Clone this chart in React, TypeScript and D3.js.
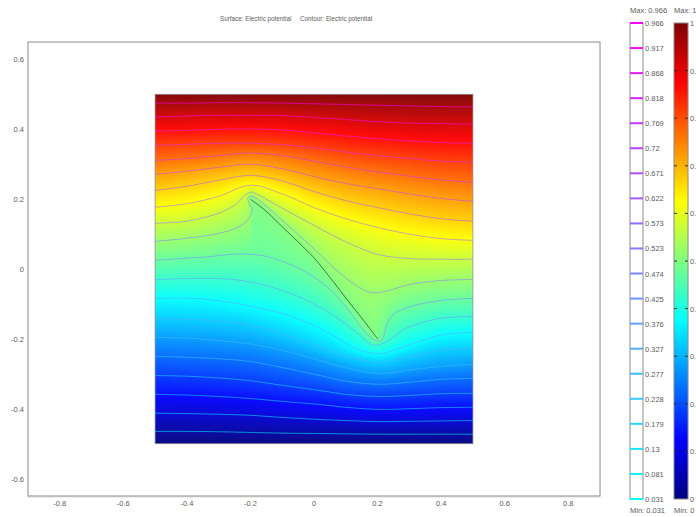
import React, { useMemo } from "react";
import * as d3 from "d3";

const titleSurface = "Surface: Electric potential";
const titleContour = "Contour: Electric potential";
const xTicks = [-0.8, -0.6, -0.4, -0.2, 0, 0.2, 0.4, 0.6, 0.8];
const yTicks = [0.6, 0.4, 0.2, 0, -0.2, -0.4, -0.6];
const contourLevels = [0.966, 0.917, 0.868, 0.818, 0.769, 0.72, 0.671, 0.622, 0.573, 0.523, 0.474, 0.425, 0.376, 0.327, 0.277, 0.228, 0.179, 0.13, 0.081, 0.031];
const surfaceTicks = [1, 0.9, 0.8, 0.7, 0.6, 0.5, 0.4, 0.3, 0.2, 0.1, 0];
const jetStops = [0, 0.125, 0.375, 0.625, 0.875, 1];
const jetColors = ["#000080", "#0000ff", "#00ffff", "#ffff00", "#ff0000", "#800000"];

const upperX = [-0.5, -0.4, -0.3, -0.2, -0.1, 0, 0.1, 0.2, 0.3, 0.4, 0.5];
const lowerX = [-0.5, -0.4, -0.3, -0.2, -0.1, 0.019, 0.1, 0.208, 0.302, 0.4, 0.5];

const y966 = [0.475, 0.475, 0.476, 0.476, 0.475, 0.473, 0.471, 0.469, 0.467, 0.465, 0.464];
const y917 = [0.435, 0.438, 0.44, 0.44, 0.439, 0.434, 0.428, 0.422, 0.418, 0.416, 0.415];
const y868 = [0.395, 0.397, 0.4, 0.401, 0.398, 0.39, 0.381, 0.373, 0.367, 0.362, 0.36];
const y818 = [0.354, 0.357, 0.36, 0.36, 0.356, 0.347, 0.335, 0.325, 0.316, 0.309, 0.306];
const y769 = [0.311, 0.316, 0.325, 0.332, 0.325, 0.309, 0.292, 0.278, 0.266, 0.255, 0.248];
const y720 = [0.271, 0.28, 0.291, 0.3, 0.287, 0.265, 0.245, 0.23, 0.215, 0.202, 0.194];
const y671 = [0.225, 0.237, 0.254, 0.268, 0.252, 0.222, 0.196, 0.176, 0.158, 0.144, 0.137];
const y622 = [0.177, 0.187, 0.208, 0.24, 0.215, 0.176, 0.144, 0.119, 0.1, 0.087, 0.082];
const line573 = [[-0.5, 0.131], [-0.4, 0.137], [-0.3, 0.16], [-0.249, 0.183], [-0.217, 0.211], [-0.2, 0.22], [-0.186, 0.217], [-0.1, 0.174], [0, 0.125], [0.1, 0.078], [0.2, 0.042], [0.3, 0.03], [0.4, 0.028], [0.5, 0.028]];
const line523 = [[-0.5, 0.079], [-0.4, 0.088], [-0.3, 0.102], [-0.233, 0.122], [-0.205, 0.145], [-0.195, 0.168], [-0.205, 0.191], [-0.208, 0.203], [-0.195, 0.208], [-0.154, 0.183], [-0.101, 0.14], [-0.044, 0.094], [0.009, 0.05], [0.06, 0.005], [0.123, -0.041], [0.176, -0.067], [0.224, -0.064], [0.302, -0.044], [0.4, -0.033], [0.5, -0.03]];
const line474 = [[-0.5, 0.025], [-0.4, 0.031], [-0.343, 0.034], [-0.239, 0.043], [-0.154, 0.037], [-0.101, 0.022], [-0.044, 0], [0.009, -0.028], [0.06, -0.067], [0.113, -0.123], [0.161, -0.181], [0.186, -0.201], [0.208, -0.207], [0.22, -0.19], [0.23, -0.156], [0.255, -0.127], [0.302, -0.108], [0.4, -0.09], [0.5, -0.084]];
const line425 = [[-0.5, -0.03], [-0.365, -0.027], [-0.255, -0.03], [-0.154, -0.047], [-0.044, -0.081], [0.019, -0.11], [0.06, -0.132], [0.113, -0.167], [0.154, -0.197], [0.183, -0.217], [0.208, -0.216], [0.255, -0.193], [0.277, -0.176], [0.302, -0.165], [0.4, -0.141], [0.5, -0.136]];
const line376 = [[-0.5, -0.084], [-0.381, -0.084], [-0.255, -0.097], [-0.098, -0.128], [-0.044, -0.145], [0.019, -0.17], [0.06, -0.19], [0.135, -0.229], [0.208, -0.242], [0.302, -0.216], [0.4, -0.189], [0.5, -0.181]];
const y327 = [-0.141, -0.144, -0.149, -0.161, -0.187, -0.225, -0.25, -0.267, -0.25, -0.232, -0.227];
const y277 = [-0.196, -0.198, -0.205, -0.215, -0.233, -0.262, -0.283, -0.299, -0.289, -0.279, -0.273];
const y228 = [-0.25, -0.253, -0.257, -0.265, -0.282, -0.305, -0.321, -0.33, -0.324, -0.316, -0.313];
const y179 = [-0.305, -0.307, -0.312, -0.32, -0.333, -0.348, -0.359, -0.365, -0.362, -0.357, -0.356];
const y130 = [-0.359, -0.361, -0.365, -0.371, -0.379, -0.388, -0.396, -0.402, -0.4, -0.397, -0.396];
const y081 = [-0.413, -0.414, -0.416, -0.419, -0.425, -0.431, -0.434, -0.437, -0.436, -0.435, -0.434];
const y031 = [-0.465, -0.465, -0.466, -0.468, -0.47, -0.471, -0.472, -0.473, -0.473, -0.473, -0.473];
const platePoints = [[-0.2, 0.2], [-0.154, 0.168], [-0.101, 0.122], [-0.044, 0.072], [0, 0.032], [0.05, -0.024], [0.113, -0.098], [0.161, -0.153], [0.2, -0.2]];
const platePotential = 0.5;

const zipX = (xs: number[], ys: number[]) => xs.map((x, i) => [x, ys[i]]);
const contourData: number[][][] = [
  zipX(upperX, y966), zipX(upperX, y917), zipX(upperX, y868), zipX(upperX, y818),
  zipX(upperX, y769), zipX(upperX, y720), zipX(upperX, y671), zipX(upperX, y622),
  line573, line523, line474, line425, line376,
  zipX(lowerX, y327), zipX(lowerX, y277), zipX(lowerX, y228), zipX(lowerX, y179),
  zipX(lowerX, y130), zipX(lowerX, y081), zipX(lowerX, y031),
];

const x = d3.scaleLinear().domain([-0.9, 0.9]).range([28, 600]);
const y = d3.scaleLinear().domain([0.65, -0.65]).range([42, 496]);
const jet = d3.scaleLinear<string>().domain(jetStops).range(jetColors).interpolate(d3.interpolateRgb);
const legendY = d3.scaleLinear().domain([0, 1]).range([499, 23]);
const contourLegendY = d3.scalePoint<number>().domain(contourLevels).range([23, 499]);
const contourColor = (v: number) => {
  const t = (v - 0.031) / (0.966 - 0.031);
  return `rgb(${Math.round(255 * t)},${Math.round(255 * (1 - t))},255)`;
};

// Samples d3's Catmull-Rom curve into dense pixel points, shared by the lines and the surface.
function densify(points: number[][]): [number, number][] {
  const out: [number, number][] = [];
  let cx = 0;
  let cy = 0;
  const ctx: any = {
    moveTo(a: number, b: number) { out.push([a, b]); cx = a; cy = b; },
    lineTo(a: number, b: number) { out.push([a, b]); cx = a; cy = b; },
    closePath() {},
    bezierCurveTo(a: number, b: number, c: number, d: number, e: number, f: number) {
      for (let i = 1; i <= 10; i++) {
        const t = i / 10;
        const u = 1 - t;
        out.push([
          u * u * u * cx + 3 * u * u * t * a + 3 * u * t * t * c + t * t * t * e,
          u * u * u * cy + 3 * u * u * t * b + 3 * u * t * t * d + t * t * t * f,
        ]);
      }
      cx = e;
      cy = f;
    },
  };
  d3.line<number[]>().x((d) => x(d[0])).y((d) => y(d[1])).curve(d3.curveCatmullRom.alpha(0.5)).context(ctx)(points);
  return out;
}

const sans = "'Liberation Sans', Arial, sans-serif";
const textFill = "#5c5c5c";
const labelSize = 7.5;

export default function App() {
  const curves = useMemo(() => contourData.map(densify), []);
  const plate = useMemo(() => densify(platePoints), []);
  const path = d3.line();

  const columns = useMemo(() => {
    const top = y(0.5);
    const bottom = y(-0.5);
    const left = x(-0.5);
    const right = x(0.5);
    const sources: { level: number; pts: [number, number][] }[] = curves.map((pts, i) => ({ level: contourLevels[i], pts }));
    sources.push({ level: platePotential, pts: plate });
    const cols: { px: number; w: number; stops: { o: number; c: string }[] }[] = [];
    const w = 1;
    for (let px = left; px < right; px += w) {
      const cx = px + w / 2;
      const crossings: [number, number][] = [[top, 1], [bottom, 0]];
      for (const s of sources) {
        for (let i = 1; i < s.pts.length; i++) {
          const [x0, y0] = s.pts[i - 1];
          const [x1, y1] = s.pts[i];
          if ((x0 <= cx && x1 > cx) || (x1 <= cx && x0 > cx)) {
            crossings.push([y0 + ((cx - x0) / (x1 - x0)) * (y1 - y0), s.level]);
          }
        }
      }
      crossings.sort((a, b) => a[0] - b[0]);
      const field = d3.scaleLinear().domain(crossings.map((d) => d[0])).range(crossings.map((d) => d[1])).clamp(true);
      const stops: { o: number; c: string }[] = [];
      for (let py = top; py <= bottom + 0.01; py += 3) {
        stops.push({ o: (py - top) / (bottom - top), c: jet(field(py)) });
      }
      cols.push({ px, w: Math.min(w + 0.5, right - px), stops });
    }
    return cols;
  }, [curves, plate]);

  return (
    <svg width={696} height={517} style={{ position: "absolute", left: 0, top: 0, display: "block", background: "#fff" }} fontFamily={sans} fontSize={labelSize}>
      <defs>
        {columns.map((c, i) => (
          <linearGradient key={i} id={`col${i}`} x1="0" y1="0" x2="0" y2="1">
            {c.stops.map((s, j) => <stop key={j} offset={s.o} stopColor={s.c} />)}
          </linearGradient>
        ))}
        <linearGradient id="jetBar" x1="0" y1="1" x2="0" y2="0">
          {jetStops.map((s, i) => <stop key={i} offset={s} stopColor={jetColors[i]} />)}
        </linearGradient>
      </defs>

      <text x={220} y={20.5} fontSize={6.3} fill={textFill}>{titleSurface}</text>
      <text x={300} y={20.5} fontSize={6.3} fill={textFill}>{titleContour}</text>

      <rect x={x(-0.9)} y={y(0.65)} width={x(0.9) - x(-0.9)} height={y(-0.65) - y(0.65)} fill="#fff" stroke="#8c8c8c" strokeWidth={1} />
      <line x1={x(-0.9)} x2={x(0.9)} y1={y(-0.65) + 0.5} y2={y(-0.65) + 0.5} stroke="#bdbdbd" strokeWidth={1.5} />

      {xTicks.map((t) => (
        <text key={t} x={x(t)} y={506} textAnchor="middle" fill={textFill}>{t}</text>
      ))}
      {yTicks.map((t) => (
        <text key={t} x={24} y={y(t) + 3} textAnchor="end" fill={textFill}>{t}</text>
      ))}

      {columns.map((c, i) => (
        <rect key={i} x={c.px} y={y(0.5)} width={c.w} height={y(-0.5) - y(0.5)} fill={`url(#col${i})`} />
      ))}
      <rect x={x(-0.5)} y={y(0.5)} width={x(0.5) - x(-0.5)} height={y(-0.5) - y(0.5)} fill="none" stroke="#8c8c8c" strokeOpacity={0.75} strokeWidth={1} />

      {curves.map((pts, i) => (
        <path key={i} d={path(pts) ?? ""} fill="none" stroke={contourColor(contourLevels[i])} strokeWidth={1} strokeOpacity={0.55} />
      ))}
      <path d={path(plate) ?? ""} fill="none" stroke="#2f5a3a" strokeWidth={1} strokeOpacity={0.85} />

      <text x={630} y={13} fill={textFill}>Max: 0.966</text>
      <rect x={630} y={23} width={13} height={476} fill="#fff" stroke="#8c8c8c" strokeWidth={1} />
      {contourLevels.map((v) => (
        <g key={v}>
          <line x1={630} x2={643} y1={contourLegendY(v)} y2={contourLegendY(v)} stroke={contourColor(v)} strokeWidth={2} />
          <text x={645} y={(contourLegendY(v) as number) + 3} fill={textFill}>{v}</text>
        </g>
      ))}
      <text x={630} y={513} fill={textFill}>Min: 0.031</text>

      <text x={674} y={13} fill={textFill}>Max: 1</text>
      <rect x={674} y={23} width={14} height={476} fill="url(#jetBar)" stroke="#8c8c8c" strokeWidth={1} />
      {surfaceTicks.map((v) => (
        <g key={v}>
          {v > 0 && v < 1 && (
            <>
              <line x1={674} x2={677} y1={legendY(v)} y2={legendY(v)} stroke="#333" strokeWidth={1} />
              <line x1={685} x2={688} y1={legendY(v)} y2={legendY(v)} stroke="#333" strokeWidth={1} />
            </>
          )}
          <text x={690} y={legendY(v) + 3} fill={textFill}>{v}</text>
        </g>
      ))}
      <text x={674} y={513} fill={textFill}>Min: 0</text>
    </svg>
  );
}
